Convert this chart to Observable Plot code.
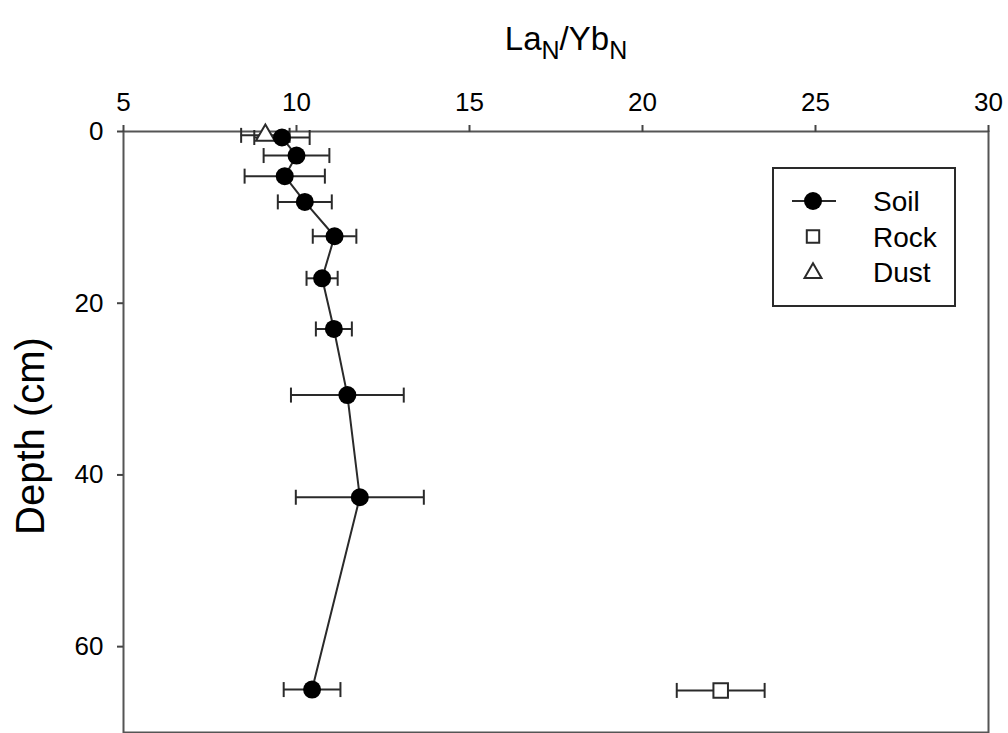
<!DOCTYPE html>
<html>
<head>
<meta charset="utf-8">
<script src="https://cdn.jsdelivr.net/npm/d3@7"></script>
<script src="https://cdn.jsdelivr.net/npm/@observablehq/plot@0.6"></script>
<style>
  html, body { margin: 0; padding: 0; background: #fff; }
  #chart { width: 1008px; height: 733px; overflow: hidden; }
</style>
</head>
<body>
<div id="chart"></div>
<script>
// Soil profile
const soilDepth = [0.7, 2.8, 5.2, 8.2, 12.2, 17.1, 23.0, 30.7, 42.6, 65.0];
const soilRatio = [9.58, 10.0, 9.66, 10.24, 11.1, 10.74, 11.08, 11.47, 11.83, 10.45];
const soilErr   = [0.80, 0.95, 1.16, 0.78, 0.63, 0.45, 0.52, 1.63, 1.85, 0.82];
// Rock
const rockDepth = [65.1];
const rockRatio = [22.26];
const rockErr   = [1.27];
// Dust
const dustDepth = [0.45];
const dustRatio = [9.10];
const dustErr   = [0.70];
// Axis ticks
const xTicks = [5, 10, 15, 20, 25, 30];
const yTicks = [0, 20, 40, 60];
const legendLabels = ["Soil", "Rock", "Dust"];

const soil = soilDepth.map((d, i) => ({depth: d, x: soilRatio[i], err: soilErr[i]}));
const rock = rockDepth.map((d, i) => ({depth: d, x: rockRatio[i], err: rockErr[i]}));
const dust = dustDepth.map((d, i) => ({depth: d, x: dustRatio[i], err: dustErr[i]}));

const capSymbol = {
  draw(ctx, size) {
    const h = Math.sqrt(size / Math.PI);
    ctx.moveTo(0, -h);
    ctx.lineTo(0, h);
  }
};

const ink = "#2a2a2a";
const font = "'Liberation Sans', Arial, sans-serif";

function errorBars(data) {
  return [
    Plot.ruleY(data, {y: "depth", x1: d => d.x - d.err, x2: d => d.x + d.err, stroke: ink, strokeWidth: 2}),
    Plot.dot(data, {y: "depth", x: d => d.x - d.err, symbol: capSymbol, r: 7.5, stroke: ink, strokeWidth: 2, fill: "none"}),
    Plot.dot(data, {y: "depth", x: d => d.x + d.err, symbol: capSymbol, r: 7.5, stroke: ink, strokeWidth: 2, fill: "none"})
  ];
}

const chart = Plot.plot({
  width: 1008,
  height: 733,
  marginTop: 131,
  marginLeft: 123,
  marginRight: 20,
  marginBottom: 1,
  style: {fontFamily: font, fontSize: "26px", color: "#000", background: "#fff", overflow: "visible"},
  x: {domain: [5, 30], label: null},
  y: {domain: [0, 70], reverse: true, label: null},
  marks: [
    Plot.frame({stroke: "#555", strokeWidth: 2}),
    Plot.axisX(xTicks, {anchor: "top", tickSize: 7, tickFormat: () => "", stroke: "#444", strokeWidth: 2, label: null}),
    Plot.axisY(yTicks, {anchor: "left", tickSize: 6, tickFormat: () => "", stroke: "#444", strokeWidth: 2, label: null}),
    Plot.text(xTicks, {x: d => d, text: d => String(d), frameAnchor: "top", dy: -29, lineAnchor: "middle", textAnchor: "middle", fontSize: 26, fill: "#000"}),
    Plot.text(yTicks, {y: d => d, text: d => String(d), frameAnchor: "left", dx: -20, lineAnchor: "middle", textAnchor: "end", fontSize: 26, fill: "#000"}),
    ...errorBars(dust),
    ...errorBars(rock),
    ...errorBars(soil),
    Plot.line(soil, {x: "x", y: "depth", stroke: ink, strokeWidth: 2}),
    Plot.dot(dust, {x: "x", y: "depth", symbol: "triangle", r: 7, fill: "#fff", stroke: ink, strokeWidth: 2}),
    Plot.dot(rock, {x: "x", y: "depth", symbol: "square", r: 8.2, fill: "#fff", stroke: ink, strokeWidth: 2}),
    Plot.dot(soil, {x: "x", y: "depth", r: 9, fill: "#000", stroke: "none"})
  ]
});

document.getElementById("chart").appendChild(chart);

const svg = d3.select(chart);

// Top axis title with subscripts
const title = svg.append("text")
  .attr("x", 566).attr("y", 50)
  .attr("text-anchor", "middle")
  .style("font-family", font).style("font-size", "33px").attr("fill", "#000");
title.append("tspan").text("La");
title.append("tspan").attr("dy", 9).style("font-size", "25px").text("N");
title.append("tspan").attr("dy", -9).text("/Yb");
title.append("tspan").attr("dy", 9).style("font-size", "25px").text("N");

// Left axis title
svg.append("text")
  .attr("transform", "translate(44,436) rotate(-90)")
  .attr("text-anchor", "middle")
  .style("font-family", font).style("font-size", "40px").attr("fill", "#000")
  .text("Depth (cm)");

// Legend
const lg = svg.append("g");
lg.append("rect").attr("x", 773).attr("y", 168).attr("width", 182).attr("height", 138)
  .attr("fill", "#fff").attr("stroke", ink).attr("stroke-width", 2);
const rows = [201, 236.5, 272];
lg.append("line").attr("x1", 792).attr("x2", 836).attr("y1", rows[0]).attr("y2", rows[0])
  .attr("stroke", ink).attr("stroke-width", 2);
lg.append("path").attr("transform", `translate(813,${rows[0]})`)
  .attr("d", d3.symbol(d3.symbolCircle, Math.PI * 9 * 9)()).attr("fill", "#000");
lg.append("path").attr("transform", `translate(813,${rows[1]})`)
  .attr("d", d3.symbol(d3.symbolSquare, Math.PI * 7 * 7)()).attr("fill", "#fff").attr("stroke", ink).attr("stroke-width", 2);
lg.append("path").attr("transform", `translate(813,${rows[2] + 1})`)
  .attr("d", d3.symbol(d3.symbolTriangle, Math.PI * 6.3 * 6.3)()).attr("fill", "#fff").attr("stroke", ink).attr("stroke-width", 2);
legendLabels.forEach((t, i) => {
  lg.append("text").attr("x", 873).attr("y", rows[i]).attr("dy", "0.36em")
    .attr("text-anchor", "start")
    .style("font-family", font).style("font-size", "28px").attr("fill", "#000").text(t);
});
</script>
</body>
</html>
